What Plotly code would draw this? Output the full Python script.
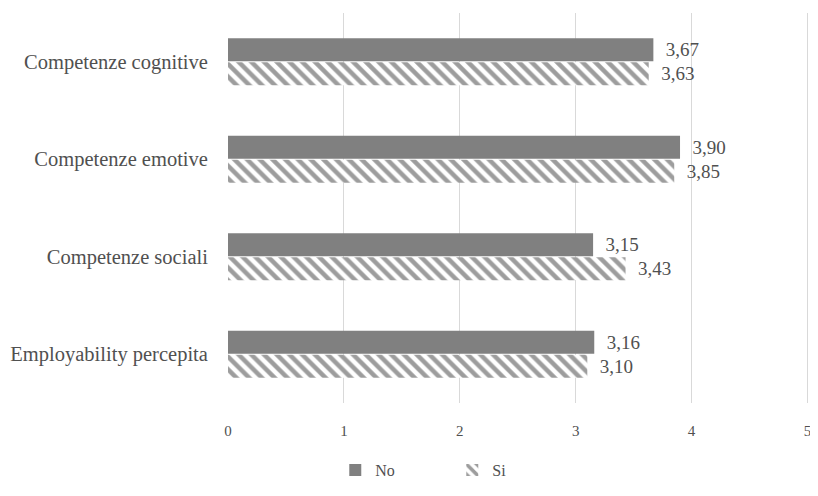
import plotly.graph_objects as go

categories = ["Competenze cognitive", "Competenze emotive", "Competenze sociali", "Employability percepita"]
no_values = [3.67, 3.90, 3.15, 3.16]
si_values = [3.63, 3.85, 3.43, 3.10]
x_ticks = [0, 1, 2, 3, 4, 5]

def fmt(v):
    return "  " + f"{v:.2f}".replace(".", ",")

font_family = "Liberation Serif, Times New Roman, serif"
text_color = "#505050"

fig = go.Figure()
fig.add_trace(go.Bar(
    y=categories, x=no_values, orientation="h", name="No",
    marker=dict(color="#808080", line=dict(width=0)),
    text=[fmt(v) for v in no_values], textposition="outside",
    textfont=dict(color=text_color, size=19, family=font_family),
    cliponaxis=False,
))
fig.add_trace(go.Bar(
    y=categories, x=si_values, orientation="h", name="Si",
    marker=dict(color="#ffffff", line=dict(width=0),
                pattern=dict(shape="\\", fgcolor="#3c3c3c", bgcolor="#ffffff", size=9, solidity=0.5)),
    text=[fmt(v) for v in si_values], textposition="outside",
    textfont=dict(color=text_color, size=19, family=font_family),
    cliponaxis=False,
))

fig.update_layout(
    width=810, height=480,
    barmode="group", bargap=0.51, bargroupgap=0.04,
    plot_bgcolor="white", paper_bgcolor="white",
    margin=dict(l=220, r=6.5, t=5, b=85, autoexpand=False),
    font=dict(family=font_family, size=16, color=text_color),
    legend=dict(orientation="h", x=0.184, xanchor="left", y=-0.172, yanchor="middle",
                font=dict(size=16, color=text_color), entrywidth=72, entrywidthmode="pixels",
                itemwidth=30, traceorder="normal"),
    showlegend=True,
)
fig.update_xaxes(range=[0, 5.03], tickvals=x_ticks, ticktext=[str(t) for t in x_ticks],
                 showgrid=True, gridcolor="#d9d9d9", gridwidth=1, zeroline=False,
                 showline=False, ticks="outside", ticklen=14, tickcolor="rgba(0,0,0,0)",
                 tickfont=dict(size=15, color=text_color), automargin=False,
                 ticklabeloverflow="allow")
fig.update_yaxes(autorange="reversed", showgrid=False, showline=False,
                 ticks="outside", ticklen=15, tickcolor="rgba(0,0,0,0)",
                 tickfont=dict(size=20.5, color=text_color), automargin=False)

fig.write_html("out.html")
